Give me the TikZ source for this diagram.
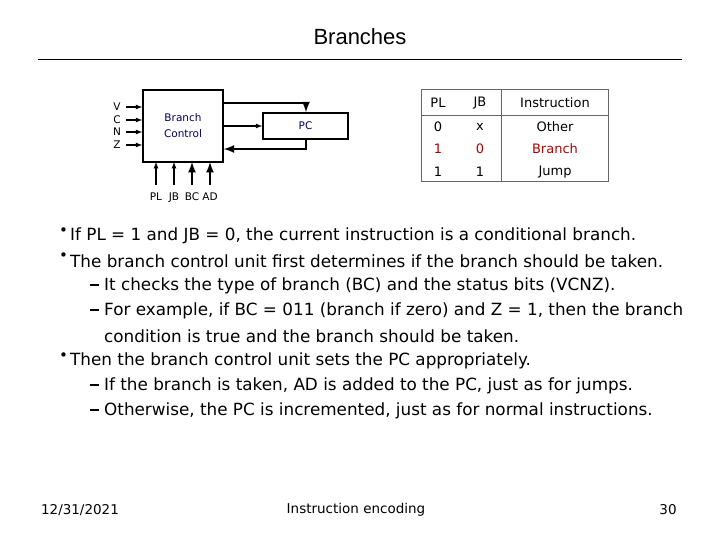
\documentclass[tikz,border=0pt]{standalone}
\usepackage{fontspec}
\setmainfont{DejaVu Sans}
\newfontfamily\titlefont{Liberation Sans}
\begin{document}
\begin{tikzpicture}[x=1pt,y=-1pt,
 box/.style={draw,line width=1.5pt},
 sig/.style={line width=1.2pt,-latex},
 bus/.style={line width=2.5pt,-latex},
 small/.style={font=\fontsize{10.5}{12}\selectfont,text=blue!40!black},
 body/.style={anchor=west,inner sep=0pt,font=\fontsize{16.8}{19}\selectfont},
 lbl/.style={font=\fontsize{13}{15}\selectfont,inner sep=0pt},
 dsh/.style={anchor=west,inner sep=0pt,font=\fontsize{16.8}{19}\selectfont}]
\useasboundingbox (0,0) rectangle (720,540);
\node[font=\titlefont\fontsize{22}{26}\selectfont] (title) at (360,37) {Branches};
\draw[line width=1pt] (38,60) -- (682,60);
% block diagram
\node[box,minimum width=80pt,minimum height=72pt] (bc) at (183,126) {};
\node[small,align=center] (bct) at (183,126) {Branch\\[4pt]Control};
\node[box,minimum width=85pt,minimum height=26pt] (pc) at (305.5,126) {};
\node[small] (pct) at (305.5,126) {PC};
\foreach \t/\y in {V/107,C/120,N/132,Z/145}{
  \node[small,text=black,inner sep=0pt] (l\t) at (117,\y) {\t};
  \draw[sig] (126,\y) -- (bc.west |- 0,\y);
}
\coordinate (t1) at (306,103);
\draw[bus] (bc.east |- t1) -- (t1) -- (pc.north -| t1);
\draw[sig] (bc.east) -- (pc.west);
\coordinate (b1) at (306,149);
\draw[bus] (pc.south -| b1) -- (b1) -- (bc.east |- b1);
\foreach \t/\x/\w in {PL/156/1.2pt,JB/174/1.2pt,BC/192/2.5pt,AD/210/2.5pt}{
  \draw[line width=\w,-latex] (\x,185) -- (\x,162);
  \node[small,text=black,inner sep=0pt,anchor=base] (b\t) at (\x,201) {\t};
}
% table
\draw[line width=1pt,draw=gray!80!black] (421,90) rectangle (608,182);
\draw[draw=gray!80!black] (421,115) -- (608,115);
\draw[draw=gray!80!black] (501,90) -- (501,182);
\node[lbl] (h1) at (438,103) {PL};
\node[lbl] (h2) at (480,103) {JB};
\node[lbl] (h3) at (555,103) {Instruction};
\node[lbl] (r11) at (438,127) {0};
\node[lbl] (r12) at (480,127) {x};
\node[lbl] (r13) at (555,127) {Other};
\node[lbl,text=red!70!black] (r21) at (438,149) {1};
\node[lbl,text=red!70!black] (r22) at (480,149) {0};
\node[lbl,text=red!70!black] (r23) at (555,149) {Branch};
\node[lbl] (r31) at (438,172) {1};
\node[lbl] (r32) at (480,172) {1};
\node[lbl] (r33) at (555,172) {Jump};
% bullets
\foreach \y in {232,257,357}{\node[body,font=\fontsize{15}{16}\selectfont] at (59,\y) {•};}
\node[body] (p1) at (70,236) {If PL = 1 and JB = 0, the current instruction is a conditional branch.};
\node[body] (p2) at (70,261) {The branch control unit first determines if the branch should be taken.};
\foreach \y in {286,311,386,411}{\draw[line width=1.1pt] (90,\y-1) -- (99,\y-1);}
\node[body] (p3) at (104,286) {It checks the type of branch (BC) and the status bits (VCNZ).};
\node[body] (p4) at (104,311) {For example, if BC = 011 (branch if zero) and Z = 1, then the branch};
\node[body] (p5) at (104,336) {condition is true and the branch should be taken.};
\node[body] (p6) at (70,361) {Then the branch control unit sets the PC appropriately.};
\node[body] (p7) at (104,386) {If the branch is taken, AD is added to the PC, just as for jumps.};
\node[body] (p8) at (104,411) {Otherwise, the PC is incremented, just as for normal instructions.};
% footer
\node[lbl,font=\fontsize{13.5}{15}\selectfont] (f1) at (80,510) {12/31/2021};
\node[lbl,font=\fontsize{13.5}{15}\selectfont] (f2) at (356,510) {Instruction encoding};
\node[lbl,font=\fontsize{13.5}{15}\selectfont] (f3) at (668,510) {30};
\end{tikzpicture}
\end{document}
